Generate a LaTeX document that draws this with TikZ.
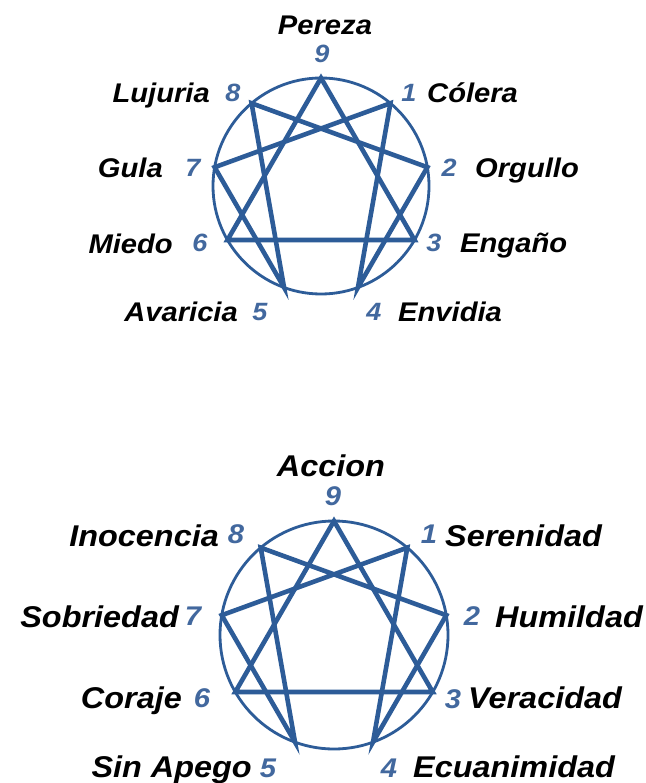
\documentclass[tikz,border=0pt]{standalone}
\usepackage{fontspec}
\setmainfont{Liberation Sans}[FakeStretch=1.08]
\definecolor{ennblue}{RGB}{45,92,152}
\definecolor{numblue}{RGB}{66,104,158}
\newcommand\ennfig[4]{% #1 prefix, #2 cx, #3 cy, #4 r
  \coordinate (#1c) at (#2,#3);
  \foreach \k in {1,...,9}{
    \coordinate (#1p\k) at ($(#1c)+({40*\k-90}:#4)$);
  }
  \draw[circ] (#1c) circle[radius=#4];
  \draw[star] (#1p9) -- (#1p3) -- (#1p6) -- cycle;
  \draw[star] (#1p1) -- (#1p4) -- (#1p2) -- (#1p8) -- (#1p5) -- (#1p7) -- cycle;
}
\usetikzlibrary{calc}
\begin{document}
\begin{tikzpicture}[x=1pt,y=-1pt,
  circ/.style={draw=ennblue,line width=2.8pt},
  star/.style={draw=ennblue,line width=4.6pt,line join=miter},
  wtop/.style={inner sep=0pt,text=black,font=\fontsize{27}{27}\selectfont\bfseries\itshape},
  dtop/.style={inner sep=0pt,text=numblue,anchor=base,font=\fontsize{25}{25}\selectfont\bfseries\itshape},
  wbot/.style={inner sep=0pt,text=black,font=\fontsize{30}{30}\selectfont\bfseries\itshape},
  dbot/.style={inner sep=0pt,text=numblue,anchor=base,font=\fontsize{27}{27}\selectfont\bfseries\itshape}]
\useasboundingbox[fill=white] (0,0) rectangle (645,783);
% top enneagram
\ennfig{a}{321}{186}{108}
\node[wtop,anchor=base] (aw9) at (325,35) {Pereza};
\node[dtop] (an9) at (322,63) {9};
\node[wtop,anchor=base east] (aw8) at (210,103) {Lujuria};
\node[dtop] (an8) at (233,102) {8};
\node[dtop] (an1) at (409,102) {1};
\node[wtop,anchor=base west] (aw1) at (427,103) {Cólera};
\node[wtop,anchor=base east] (aw7) at (163,178) {Gula};
\node[dtop] (an7) at (193,177) {7};
\node[dtop] (an2) at (449,177) {2};
\node[wtop,anchor=base west] (aw2) at (475,178) {Orgullo};
\node[wtop,anchor=base east] (aw6) at (173,254) {Miedo};
\node[dtop] (an6) at (200,252) {6};
\node[dtop] (an3) at (434,252) {3};
\node[wtop,anchor=base west] (aw3) at (460,253) {Engaño};
\node[wtop,anchor=base east] (aw5) at (238,321) {Avaricia};
\node[dtop] (an5) at (260,320) {5};
\node[dtop] (an4) at (374,320) {4};
\node[wtop,anchor=base west] (aw4) at (398,321) {Envidia};
% bottom enneagram
\ennfig{b}{334}{635}{114}
\node[wbot,anchor=base] (bw9) at (331,476) {Accion};
\node[dbot] (bn9) at (333,505) {9};
\node[wbot,anchor=base east] (bw8) at (219,546) {Inocencia};
\node[dbot] (bn8) at (236,543) {8};
\node[dbot] (bn1) at (429,543) {1};
\node[wbot,anchor=base west] (bw1) at (445,546) {Serenidad};
\node[wbot,anchor=base east] (bw7) at (179,627) {Sobriedad};
\node[dbot] (bn7) at (193,625) {7};
\node[dbot] (bn2) at (472,625) {2};
\node[wbot,anchor=base west] (bw2) at (495,627) {Humildad};
\node[wbot,anchor=base east] (bw6) at (182,708) {Coraje};
\node[dbot] (bn6) at (202,707) {6};
\node[dbot] (bn3) at (453,708) {3};
\node[wbot,anchor=base west] (bw3) at (468,708) {Veracidad};
\node[wbot,anchor=base east] (bw5) at (252,777) {Sin Apego};
\node[dbot] (bn5) at (268,777) {5};
\node[dbot] (bn4) at (389,777) {4};
\node[wbot,anchor=base west] (bw4) at (413,777) {Ecuanimidad};
\end{tikzpicture}
\end{document}
